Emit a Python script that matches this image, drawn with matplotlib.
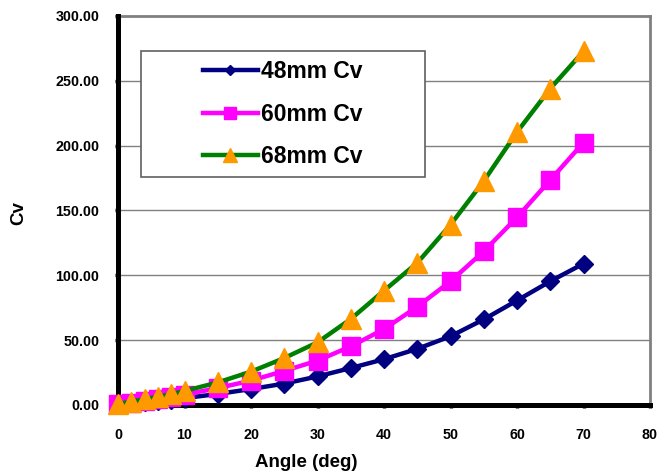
import matplotlib
matplotlib.use("Agg")
import matplotlib.pyplot as plt
from matplotlib.lines import Line2D
from matplotlib.patches import Rectangle
from matplotlib.ticker import FormatStrFormatter

# Data
angles = [0, 2, 4, 6, 8, 10, 15, 20, 25, 30, 35, 40, 45, 50, 55, 60, 65, 70]
cv_48mm = [0.4, 1.2, 2.0, 3.0, 4.0, 5.3, 8.5, 12.3, 16.5, 22.0, 28.5, 35.3, 43.3, 53.0, 66.0, 80.6, 95.4, 109.0]
cv_60mm = [0.7, 1.9, 3.2, 4.7, 6.2, 8.0, 13.0, 18.8, 26.3, 34.2, 45.2, 58.5, 75.8, 95.4, 118.5, 144.7, 173.5, 202.4]
cv_68mm = [0.9, 2.6, 4.4, 6.4, 8.2, 10.8, 17.4, 25.7, 36.2, 48.3, 66.3, 88.2, 109.6, 139.0, 172.7, 210.5, 244.0, 272.8]
series_labels = ["48mm Cv", "60mm Cv", "68mm Cv"]
x_ticks = [0, 10, 20, 30, 40, 50, 60, 70, 80]
y_ticks = [0, 50, 100, 150, 200, 250, 300]

plt.rcParams['font.family'] = ['Liberation Sans', 'DejaVu Sans']
plt.rcParams['font.weight'] = 'bold'

fig = plt.figure(figsize=(6.59, 4.76), dpi=100)
ax = fig.add_axes([118 / 659, 71 / 476, 532 / 659, 389 / 476])

# Series styles (line colour, marker, marker colour, marker size)
styles = [
    ("#000080", "D", "#000080", 9.5),
    ("#FF00FF", "s", "#FF00FF", 12.5),
    ("#008000", "^", "#FF9900", 14),
]
legend_ms = [5, 8.5, 9.5]

for values, (lc, mk, mc, ms) in zip([cv_48mm, cv_60mm, cv_68mm], styles):
    ax.plot(angles, values, color=lc, linewidth=3.2, marker=mk, markersize=ms,
            markerfacecolor=mc, markeredgecolor=mc, markeredgewidth=1,
            clip_on=False, zorder=4)

ax.set_xlim(0, 80)
ax.set_ylim(0, 300)
ax.set_xticks(x_ticks)
ax.set_yticks(y_ticks)
ax.yaxis.set_major_formatter(FormatStrFormatter('%.2f'))

# Gridlines and plot border
for y in y_ticks[1:-1]:
    ax.axhline(y, color="#808080", linewidth=1, zorder=1)
ax.spines['left'].set_linewidth(3.6)
ax.spines['bottom'].set_linewidth(3.6)
ax.spines['left'].set_zorder(3)
ax.spines['bottom'].set_zorder(3)
ax.spines['top'].set_color("#808080")
ax.spines['right'].set_color("#808080")
ax.spines['top'].set_linewidth(2)
ax.spines['right'].set_linewidth(2)

ax.tick_params(axis='both', direction='out', length=2.5, width=2.5, labelsize=10.3)
ax.tick_params(axis='x', pad=14)
ax.tick_params(axis='y', pad=11)
for lbl in ax.get_xticklabels() + ax.get_yticklabels():
    lbl.set_fontweight('bold')

ax.set_xlabel("Angle (deg)", fontsize=13.5, fontweight='bold')
ax.xaxis.set_label_coords(0.353, -0.126)
ax.set_ylabel("Cv", fontsize=13.5, fontweight='bold')
ax.yaxis.set_label_coords(-0.171, 0.494)

# Legend box drawn by hand, legend entries placed inside
box = Rectangle((23 / 532, (405 - 177) / 389), (425 - 141) / 532, 126 / 389,
                transform=ax.transAxes, facecolor="white", edgecolor="#606060",
                linewidth=1.2, zorder=5)
ax.add_patch(box)

handles = []
for (lc, mk, mc, ms), lms in zip(styles, legend_ms):
    handles.append(Line2D([], [], color=lc, linewidth=3.2, marker=mk, markersize=lms,
                          markerfacecolor=mc, markeredgecolor=mc))
leg = ax.legend(handles, series_labels, loc='center', bbox_to_anchor=(0.310, 0.748),
                frameon=False, fontsize=16.5, handlelength=2.4, handletextpad=0.15,
                labelspacing=0.85, borderpad=0)
leg.set_zorder(6)
for t in leg.get_texts():
    t.set_fontweight('bold')

fig.savefig("out.png", dpi=100)
